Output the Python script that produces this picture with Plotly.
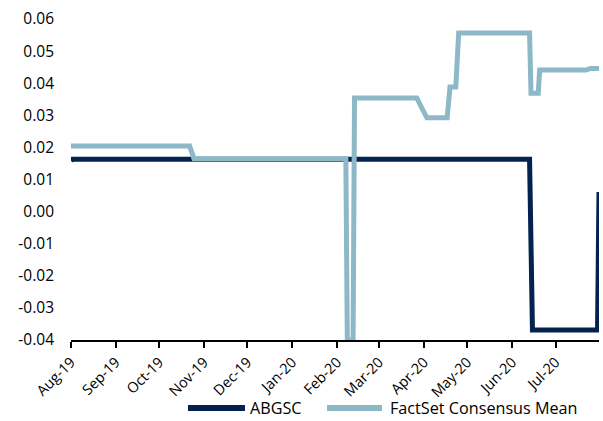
import plotly.graph_objects as go

abgsc_dates = ["2019-08-01", "2019-08-02", "2020-06-13", "2020-06-15", "2020-07-30", "2020-07-31"]
abgsc_vals = [0.0158, 0.0163, 0.0163, -0.0369, -0.0369, 0.0061]

fs_dates = ["2019-08-01", "2019-10-22", "2019-10-25", "2020-02-07", "2020-02-08",
            "2020-02-12", "2020-02-13", "2020-03-27", "2020-04-03", "2020-04-17",
            "2020-04-19", "2020-04-23", "2020-04-25", "2020-06-13", "2020-06-14",
            "2020-06-19", "2020-06-20", "2020-07-22", "2020-07-25", "2020-07-31"]
fs_vals = [0.0204, 0.0204, 0.0165, 0.0165, -0.0400,
           -0.0400, 0.0354, 0.0354, 0.0292, 0.0292,
           0.0388, 0.0388, 0.0556, 0.0556, 0.0369,
           0.0369, 0.0441, 0.0441, 0.0446, 0.0446]

tick_dates = ["2019-08-01", "2019-09-01", "2019-10-01", "2019-11-01", "2019-12-01", "2020-01-01",
              "2020-02-01", "2020-03-01", "2020-04-01", "2020-05-01", "2020-06-01", "2020-07-01"]
tick_labels = ["Aug-19", "Sep-19", "Oct-19", "Nov-19", "Dec-19", "Jan-20",
               "Feb-20", "Mar-20", "Apr-20", "May-20", "Jun-20", "Jul-20"]

y_ticks = [-0.04, -0.03, -0.02, -0.01, 0.0, 0.01, 0.02, 0.03, 0.04, 0.05, 0.06]
y_labels = ["-0.04", "-0.03", "-0.02", "-0.01", "0.00", "0.01", "0.02", "0.03", "0.04", "0.05", "0.06"]

series_names = ["ABGSC", "FactSet Consensus Mean"]

NAVY = "#03224F"
LIGHT = "#8DB8C8"
FONT = "Open Sans, sans-serif"

fig = go.Figure()
fig.add_trace(go.Scatter(x=abgsc_dates, y=abgsc_vals, mode="lines", name=series_names[0],
                         line=dict(color=NAVY, width=5), cliponaxis=False, showlegend=False))
fig.add_trace(go.Scatter(x=fs_dates, y=fs_vals, mode="lines", name=series_names[1],
                         line=dict(color=LIGHT, width=5), cliponaxis=False, showlegend=False))

# manual legend (wider swatches like the reference)
legend_items = [(series_names[0], NAVY, 0.2216, 0.3295, 0.335),
                (series_names[1], LIGHT, 0.4848, 0.589, 0.6004)]
for name, color, x0, x1, xt in legend_items:
    fig.add_shape(type="line", xref="paper", yref="paper", x0=x0, x1=x1, y0=-0.212, y1=-0.212,
                  line=dict(color=color, width=6))
    fig.add_annotation(xref="paper", yref="paper", x=xt, y=-0.212, text=name, showarrow=False,
                       xanchor="left", yanchor="middle",
                       font=dict(family=FONT, size=16.2, color="#000000"))

fig.update_layout(
    width=603, height=421,
    margin=dict(l=71, r=4, t=19, b=81, autoexpand=False),
    paper_bgcolor="white", plot_bgcolor="white",
    font=dict(family=FONT, size=15, color="#000000"),
    showlegend=False,
    xaxis=dict(type="date", range=["2019-08-01", "2020-07-31"], automargin=False,
               tickvals=tick_dates, ticktext=tick_labels, tickangle=-45,
               showgrid=False, zeroline=False, showline=True, linecolor="black", linewidth=2,
               ticks="outside", ticklen=6, tickwidth=2, tickcolor="black",
               tickfont=dict(family=FONT, size=14.5)),
    yaxis=dict(range=[-0.04, 0.06], tickvals=y_ticks, ticktext=y_labels, automargin=False,
               showgrid=False, zeroline=False, showline=False, ticks="",
               tickfont=dict(family=FONT, size=15.5), ticklabelstandoff=16),
)

fig.write_html("out.html")
